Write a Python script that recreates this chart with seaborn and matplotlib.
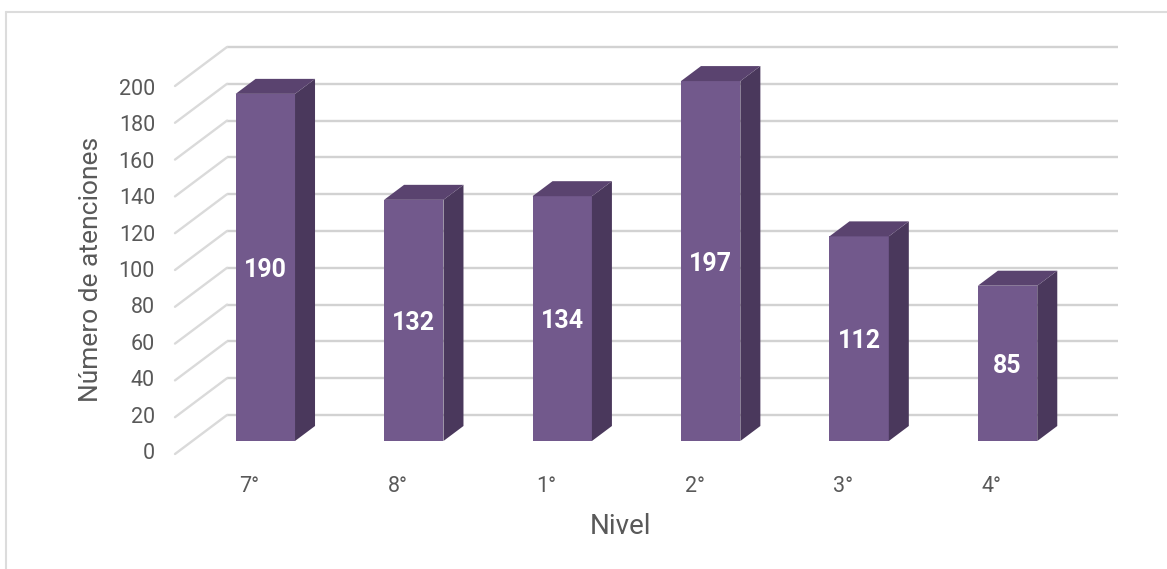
import matplotlib
matplotlib.use("Agg")
import matplotlib.pyplot as plt
from matplotlib.lines import Line2D
from matplotlib.patches import Polygon
from matplotlib.transforms import Affine2D
import pandas as pd
import seaborn as sns

niveles = ["7°", "8°", "1°", "2°", "3°", "4°"]
atenciones = [190, 132, 134, 197, 112, 85]
y_ticks = list(range(0, 201, 20))

W, H = 1167, 569
FRONT = "#72598C"
SIDE = "#4A385C"
TOP = "#5A436F"
TEXT = "#595959"
GRID = "#D2D2D2"

sns.set_theme(style="white")
plt.rcParams["font.family"] = ["Roboto", "DejaVu Sans"]

def axes_px(fig, left, top, right, bottom):
    return fig.add_axes([left / W, 1 - bottom / H, (right - left) / W, (bottom - top) / H])

fig = plt.figure(figsize=(W / 100, H / 100), dpi=100, facecolor="white")

# chart frame
fig.add_artist(Line2D([6 / W, 6 / W], [0, 1 - 12 / H], color="#DCDCDC", lw=1.5))
fig.add_artist(Line2D([6 / W, 1], [1 - 12 / H, 1 - 12 / H], color="#DCDCDC", lw=1.5))

# value labels sit on their own front-plane axis
front = axes_px(fig, 175, 87, 227, 451)
front.set_xlim(0, 1)
front.set_ylim(0, 200)
front.patch.set_visible(False)
sns.despine(ax=front, left=True, bottom=True)
front.set_xticks([])
front.set_yticks(y_ticks)
front.tick_params(axis="y", length=0, pad=14.4, labelsize=15.5, labelcolor=TEXT)

# back wall with gridlines and floor/side diagonals
wall = axes_px(fig, 227, 47, 1118, 415)
wall.set_xlim(0, 1)
wall.set_ylim(0, 200)
wall.patch.set_visible(False)
sns.despine(ax=wall, left=True, bottom=True)
wall.set_xticks([])
wall.set_yticks([])
dx_wall = 52 / 891
dy_wall = 39 / 1.84
for v in y_ticks:
    wall.plot([0, 1], [v, v], color=GRID, lw=1.7, clip_on=False, solid_capstyle="butt")
    wall.plot([-dx_wall, 0], [v - dy_wall, v], color="#DADADA", lw=1.7, clip_on=False,
              solid_capstyle="round")
wall.set_ylabel("Número de atenciones", fontsize=19, color=TEXT,
                va="center", ha="center")
wall.yaxis.set_label_coords((91 - 227) / 891, (415 - 269) / 368)

# bars
SCALE = 1.827
ax = axes_px(fig, 191.1, 47, 1081.8, 441)
ax.patch.set_visible(False)
df = pd.DataFrame({"Nivel": niveles, "Atenciones": atenciones})
sns.barplot(data=df, x="Nivel", y="Atenciones", color=FRONT, saturation=1, width=0.4,
            ax=ax, order=niveles, linewidth=0, edgecolor="none")
ax.set_xlim(-0.5, len(niveles) - 0.5)
ax.set_ylim(0, 394 / SCALE)
sns.despine(ax=ax, left=True, bottom=True)
ax.set_yticks([])
ax.set_ylabel("")

depth_x = 20 / 148.4
depth_y = 15 / SCALE
for p in ax.patches:
    x0, w, h = p.get_x(), p.get_width(), p.get_height()
    ax.add_patch(Polygon([(x0 + w, 0), (x0 + w + depth_x, depth_y),
                          (x0 + w + depth_x, h + depth_y), (x0 + w, h)],
                         closed=True, fc=SIDE, ec="none", clip_on=False))
    ax.add_patch(Polygon([(x0, h), (x0 + depth_x, h + depth_y),
                          (x0 + w + depth_x, h + depth_y), (x0 + w, h)],
                         closed=True, fc=TOP, ec="none", clip_on=False))
labels = ax.bar_label(ax.containers[0], label_type="center", color="white", fontsize=18,
                      fontweight="bold")
for ann in labels:
    ann.xyann = (0, -1.8)

ax.tick_params(axis="x", length=0, pad=25, labelsize=15.5, labelcolor=TEXT)
x_shift = Affine2D().translate(-16, 0)
for lab in ax.get_xticklabels():
    lab.set_transform(lab.get_transform() + x_shift)
ax.set_xlabel("Nivel", fontsize=20, color=TEXT, va="center", ha="center")
ax.xaxis.set_label_coords((621 - 191.1) / 890.7, -(526 - 441) / 394)

fig.savefig("out.png", dpi=100)
